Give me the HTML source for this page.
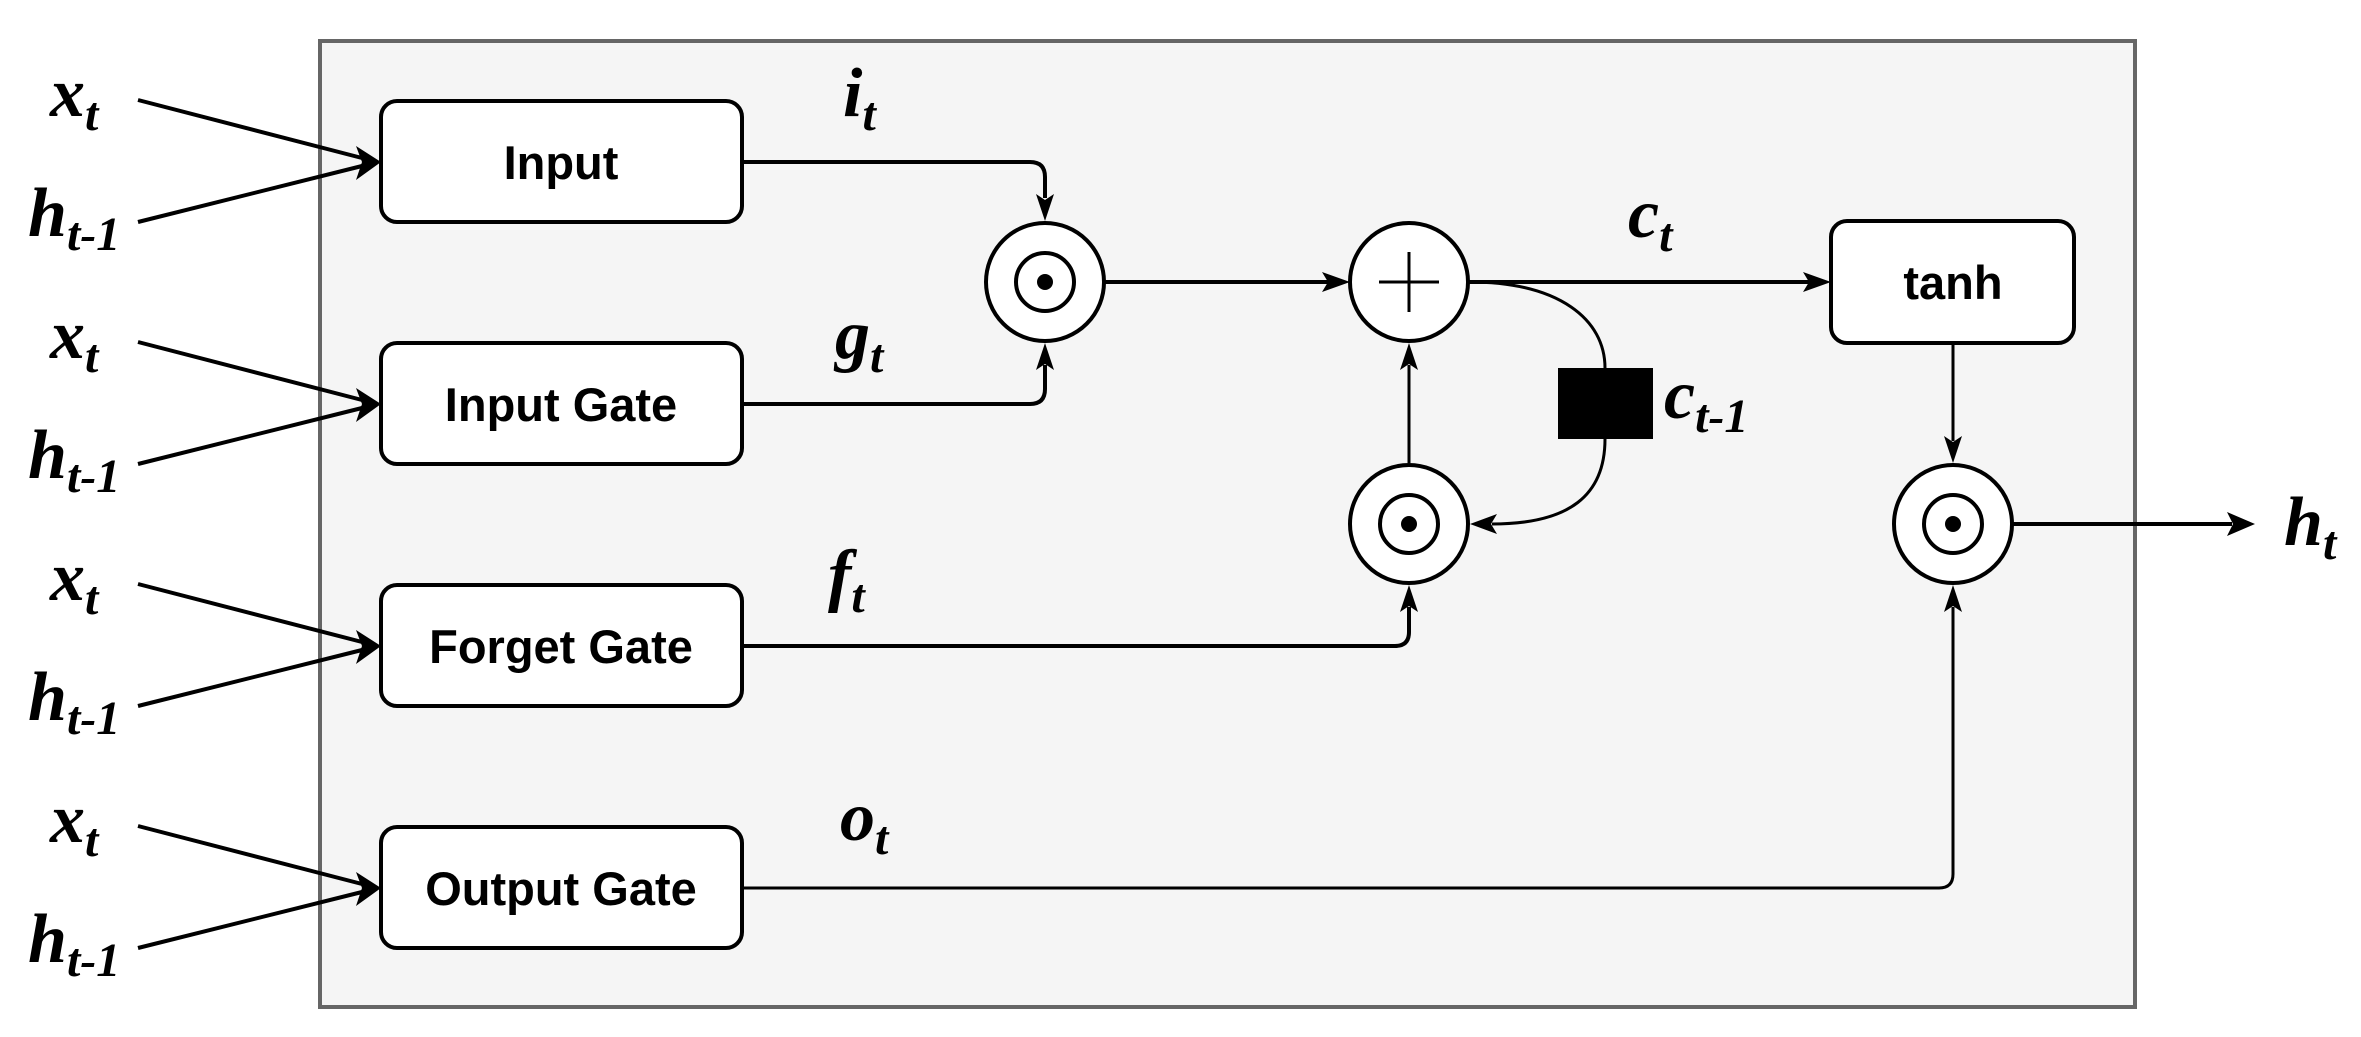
<!DOCTYPE html>
<html><head><meta charset="utf-8"><style>
html,body{margin:0;padding:0;background:#fff;}
svg{display:block;}
.lbl{font-family:"Liberation Serif",serif;font-style:italic;font-weight:bold;font-size:70px;fill:#000;}
.sub{font-size:48px;}
.box{font-family:"Liberation Sans",sans-serif;font-weight:bold;font-size:47px;fill:#000;}
</style></head><body>
<svg width="2361" height="1037" viewBox="0 0 2361 1037" xmlns="http://www.w3.org/2000/svg">
<rect x="320" y="41" width="1815" height="966" fill="#f5f5f5" stroke="#666" stroke-width="4"/>

<g stroke="#000" stroke-width="4" fill="#fff">
<rect x="381" y="101" width="361" height="121" rx="16"/>
<rect x="381" y="343" width="361" height="121" rx="16"/>
<rect x="381" y="585" width="361" height="121" rx="16"/>
<rect x="381" y="827" width="361" height="121" rx="16"/>
<rect x="1831" y="221" width="243" height="122" rx="16"/>
</g>
<text class="box" x="561" y="179" text-anchor="middle">Input</text>
<text class="box" x="561" y="421" text-anchor="middle">Input Gate</text>
<text class="box" x="561" y="663" text-anchor="middle">Forget Gate</text>
<text class="box" x="561" y="905" text-anchor="middle">Output Gate</text>
<text class="box" x="1953" y="299" text-anchor="middle">tanh</text>

<g stroke="#000" stroke-width="4" fill="none">
<line x1="138" y1="100" x2="362" y2="158"/><line x1="138" y1="222" x2="362" y2="166"/>
<line x1="138" y1="342" x2="362" y2="400"/><line x1="138" y1="464" x2="362" y2="408"/>
<line x1="138" y1="584" x2="362" y2="642"/><line x1="138" y1="706" x2="362" y2="650"/>
<line x1="138" y1="826" x2="362" y2="884"/><line x1="138" y1="948" x2="362" y2="892"/>
<path d="M742 162 H1030 Q1045 162 1045 177 V198"/>
<path d="M742 404 H1030 Q1045 404 1045 389 V365"/>
<line x1="1105" y1="282" x2="1328" y2="282"/>
<line x1="1469" y1="282" x2="1810" y2="282"/>
<path d="M1469 282 C1560 282 1605 320 1605 368" stroke-width="3"/>
<path d="M1605 439 C1605 495 1570 524 1492 524" stroke-width="3"/>
<line x1="1409" y1="463" x2="1409" y2="365" stroke-width="3"/>
<path d="M742 646 H1395 Q1409 646 1409 632 V607"/>
<line x1="1953" y1="343" x2="1953" y2="441" stroke-width="3"/>
<path d="M742 888 H1939 Q1953 888 1953 874 V607" stroke-width="3"/>
<line x1="2013" y1="524" x2="2232" y2="524"/>
</g>
<g fill="#000">
<polygon points="381,162 356,146 362,162 356,180"/>
<polygon points="381,404 356,388 362,404 356,422"/>
<polygon points="381,646 356,630 362,646 356,664"/>
<polygon points="381,888 356,872 362,888 356,906"/>
<polygon points="1045,221 1036,194 1045,200 1054,194"/>
<polygon points="1045,343 1036,370 1045,364 1054,370"/>
<polygon points="1350,282 1322,272 1328,282 1322,292"/>
<polygon points="1831,282 1803,272 1809,282 1803,292"/>
<polygon points="1409,343 1400,370 1409,364 1418,370"/>
<polygon points="1470,524 1497,514 1491,524 1497,534"/>
<polygon points="1409,585 1400,612 1409,606 1418,612"/>
<polygon points="1953,463 1944,436 1953,442 1962,436"/>
<polygon points="1953,585 1944,612 1953,606 1962,612"/>
<polygon points="2255,524 2227,512 2233,524 2227,536"/>
</g>
<rect x="1558" y="368" width="95" height="71" fill="#000"/>

<g stroke="#000" stroke-width="4" fill="#fff">
<circle cx="1045" cy="282" r="59"/><circle cx="1045" cy="282" r="29"/>
<circle cx="1409" cy="282" r="59"/>
<circle cx="1409" cy="524" r="59"/><circle cx="1409" cy="524" r="29"/>
<circle cx="1953" cy="524" r="59"/><circle cx="1953" cy="524" r="29"/>
</g>
<g fill="#000">
<circle cx="1045" cy="282" r="8"/><circle cx="1409" cy="524" r="8"/><circle cx="1953" cy="524" r="8"/>
</g>
<g stroke="#000" stroke-width="3">
<line x1="1379" y1="282" x2="1439" y2="282"/><line x1="1409" y1="252" x2="1409" y2="312"/>
</g>

<g class="lbl">
<text x="50" y="116">x<tspan class="sub" dy="14">t</tspan></text>
<text x="28" y="236">h<tspan class="sub" dy="14">t-1</tspan></text>
<text x="50" y="358">x<tspan class="sub" dy="14">t</tspan></text>
<text x="28" y="478">h<tspan class="sub" dy="14">t-1</tspan></text>
<text x="50" y="600">x<tspan class="sub" dy="14">t</tspan></text>
<text x="28" y="720">h<tspan class="sub" dy="14">t-1</tspan></text>
<text x="50" y="842">x<tspan class="sub" dy="14">t</tspan></text>
<text x="28" y="962">h<tspan class="sub" dy="14">t-1</tspan></text>
<text x="843" y="116">i<tspan class="sub" dy="14">t</tspan></text>
<text x="835" y="358">g<tspan class="sub" dy="14">t</tspan></text>
<text x="828" y="598">f<tspan class="sub" dy="14">t</tspan></text>
<text x="840" y="840">o<tspan class="sub" dy="14">t</tspan></text>
<text x="1628" y="237">c<tspan class="sub" dy="14">t</tspan></text>
<text x="1664" y="418">c<tspan class="sub" dy="14">t-1</tspan></text>
<text x="2284" y="545">h<tspan class="sub" dy="14">t</tspan></text>
</g>
</svg>
</body></html>
